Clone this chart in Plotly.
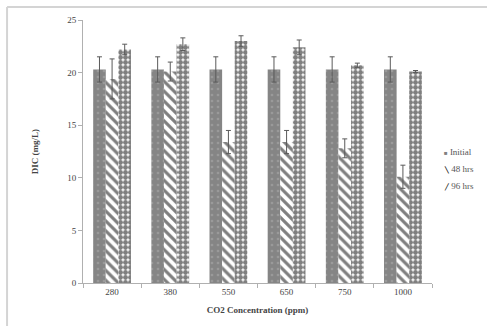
import plotly.graph_objects as go

# CO2 concentration groups and DIC readings (mg/L)
categories = ["280", "380", "550", "650", "750", "1000"]
initial = [20.3, 20.3, 20.3, 20.3, 20.3, 20.3]
initial_err = [1.2, 1.2, 1.2, 1.2, 1.2, 1.2]
hrs48 = [19.4, 20.1, 13.4, 13.4, 12.8, 10.1]
hrs48_err = [1.9, 0.9, 1.1, 1.1, 0.9, 1.1]
hrs96 = [22.2, 22.7, 23.0, 22.4, 20.7, 20.1]
hrs96_err = [0.5, 0.6, 0.5, 0.7, 0.2, 0.1]
y_ticks = [0, 5, 10, 15, 20, 25]
series_names = ["Initial", "48 hrs", "96 hrs"]

serif = "Liberation Serif, Times New Roman, serif"
err_style = dict(type="data", visible=True, color="#5a5a5a", thickness=1, width=2.5)

fig = go.Figure()
fig.add_trace(go.Bar(
    name=series_names[0], x=categories, y=initial, showlegend=False,
    error_y=dict(array=initial_err, **err_style),
    marker=dict(color="#858585", line=dict(width=0),
                pattern=dict(shape=".", fgcolor="#b0b0b0", bgcolor="#858585",
                             size=6, solidity=0.15)),
))
fig.add_trace(go.Bar(
    name=series_names[1], x=categories, y=hrs48, showlegend=False,
    error_y=dict(array=hrs48_err, **err_style),
    marker=dict(color="white", line=dict(width=0),
                pattern=dict(shape="\\", fgcolor="black", bgcolor="white",
                             size=7, solidity=0.45)),
))
fig.add_trace(go.Bar(
    name=series_names[2], x=categories, y=hrs96, showlegend=False,
    error_y=dict(array=hrs96_err, **err_style),
    marker=dict(color="white", line=dict(width=0),
                pattern=dict(shape=".", fgcolor="black", bgcolor="white",
                             size=5, solidity=0.75)),
))

# compact legend: a small swatch glyph followed by the series name
swatches = [("■", "#808080"), ("╲", "#111"), ("╱", "#111")]
legend_y = [0.498, 0.433, 0.369]
for name, (glyph, col), ly in zip(series_names, swatches, legend_y):
    fig.add_annotation(
        xref="paper", yref="paper", x=0.888, y=ly, xanchor="left", yanchor="middle",
        showarrow=False, align="left",
        text=f'<span style="color:{col};font-size:6px"><b>{glyph}</b></span> {name}',
        font=dict(family=serif, size=9, color="#555"),
    )

# light outer frame around the chart area
frame = dict(type="line", xref="paper", yref="paper",
             line=dict(color="#d4d4d4", width=2))
fig.add_shape(x0=-0.188, x1=-0.188, y0=1.049, y1=-0.2, **frame)
fig.add_shape(x0=-0.188, x1=1.1, y0=1.049, y1=1.049, **frame)

fig.update_layout(
    width=487, height=326,
    margin=dict(l=83, r=0, t=20, b=43, autoexpand=False),
    paper_bgcolor="white", plot_bgcolor="white",
    barmode="group", bargap=0.35, bargroupgap=0,
    font=dict(family=serif, size=9, color="#444"),
    showlegend=False,
    xaxis=dict(
        type="category", domain=[0, 349 / 404],
        showline=True, linecolor="#b0b0b0", linewidth=1,
        ticks="outside", tickson="boundaries", ticklen=4, tickcolor="#b0b0b0",
        showgrid=False,
        title=dict(text="<b>CO2 Concentration (ppm)</b>", standoff=10,
                   font=dict(family=serif, size=9, color="#444")),
    ),
    yaxis=dict(
        range=[0, 25], tickvals=y_ticks, showline=True, linecolor="#b0b0b0",
        linewidth=1, ticks="outside", ticklen=4, tickcolor="#b0b0b0",
        showgrid=False, zeroline=False,
        title=dict(text="<b>DIC (mg/L)</b>", standoff=27,
                   font=dict(family=serif, size=9, color="#444")),
    ),
)

fig.write_html("out.html")
